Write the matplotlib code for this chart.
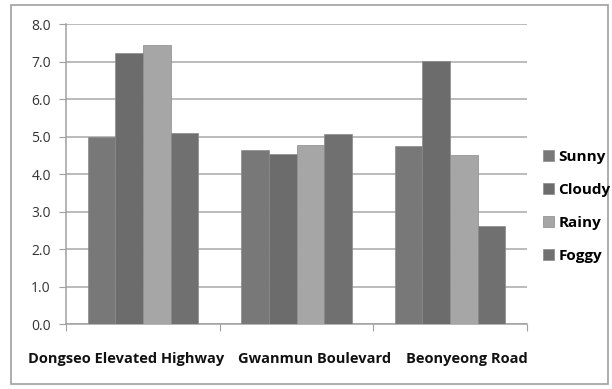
import numpy as np
import matplotlib
matplotlib.use("Agg")
import matplotlib.pyplot as plt
from matplotlib.patches import Rectangle

# data
roads = ["Dongseo Elevated Highway", "Gwanmun Boulevard", "Beonyeong Road"]
weather = ["Sunny", "Cloudy", "Rainy", "Foggy"]
sunny = [5.0, 4.64, 4.75]
cloudy = [7.23, 4.53, 7.01]
rainy = [7.44, 4.78, 4.50]
foggy = [5.10, 5.07, 2.62]
colors = ["#787878", "#6c6c6c", "#a6a6a6", "#707070"]
# Excel nudged the category labels sideways to keep them apart
label_shift = [-0.11, 0.12, 0.11]

plt.rcParams['font.family'] = ['Open Sans', 'DejaVu Sans']

fig = plt.figure(figsize=(6.12, 3.89), dpi=100)
ax = fig.add_axes([0.108, 0.167, 0.753, 0.771])

# outer chart border
fig.patches.append(Rectangle((0.018, 0.012), 0.975, 0.975, transform=fig.transFigure,
                             fill=False, edgecolor="#a0a0a0", linewidth=1.2))

x = np.arange(len(roads))
w = 0.18
for i, (vals, c) in enumerate(zip([sunny, cloudy, rainy, foggy], colors)):
    ax.bar(x + (i - 1.5) * w, vals, w, color=c, edgecolor="#8a8a8a", linewidth=0.5,
           label=weather[i], zorder=3)

ax.set_xlim(-0.5, 2.5)
ax.set_ylim(0, 8)
ax.set_yticks(np.arange(0, 8.1, 1.0))
ax.set_yticklabels([f"{v:.1f}" for v in np.arange(0, 8.1, 1.0)], fontsize=10, color="#333333")
ax.yaxis.grid(True, color="#a8a8a8", linewidth=1.1, zorder=0)

# boundary ticks, labels drawn as text below
ax.set_xticks([-0.5, 0.5, 1.5, 2.5])
ax.set_xticklabels([])
ax.tick_params(axis="x", length=5, color="#a0a0a0", direction="out")
ax.tick_params(axis="y", length=5, color="#a0a0a0", pad=6)
trans = ax.get_xaxis_transform()
for xi, name, dx in zip(x, roads, label_shift):
    ax.text(xi + dx, -0.115, name, transform=trans, ha="center", va="center",
            fontsize=10.5, fontweight="bold", color="#111111")

for s in ["top", "right"]:
    ax.spines[s].set_visible(False)
for s in ["left", "bottom"]:
    ax.spines[s].set_color("#a0a0a0")
    ax.spines[s].set_linewidth(1.1)

leg = fig.legend(loc="center left", bbox_to_anchor=(0.865, 0.47), frameon=False,
                 prop={"weight": "bold", "size": 11}, handlelength=0.7, handleheight=0.7,
                 handletextpad=0.3, labelspacing=1.25)

fig.savefig("out.png", dpi=100)
